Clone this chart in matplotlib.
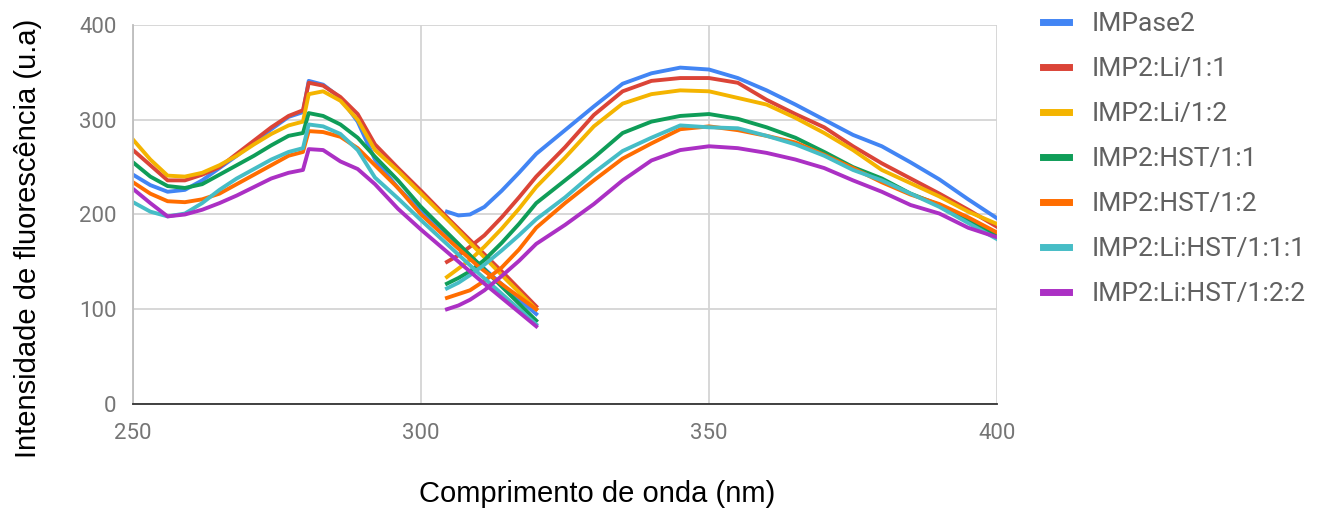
import matplotlib
matplotlib.use("Agg")
import matplotlib.pyplot as plt

# wavelength grids of the two scans (nm)
x_a = [250, 253, 256, 259, 262, 265, 268, 271, 274, 277, 279.5, 280.5, 283, 286, 289, 292, 296, 300, 305, 310, 315, 320]
x_b = [304.5, 306.5, 308.5, 311, 314, 317, 320, 325, 330, 335, 340, 345, 350, 355, 360, 365, 370, 375, 380, 385, 390, 395, 400]

labels = ["IMPase2", "IMP2:Li/1:1", "IMP2:Li/1:2", "IMP2:HST/1:1",
          "IMP2:HST/1:2", "IMP2:Li:HST/1:1:1", "IMP2:Li:HST/1:2:2"]
colors = ["#4285F4", "#DB4437", "#F4B400", "#0F9D58", "#FF6D00", "#46BDC6", "#AB30C4"]

# first scan (250-320 nm)
impase2_a = [242, 231, 224, 226, 236, 249, 262, 276, 290, 303, 308, 341, 337, 323, 298, 258, 228, 204, 176, 148, 121, 95]
li11_a = [268, 252, 236, 236, 242, 250, 264, 278, 292, 304, 310, 339, 336, 324, 306, 274, 249, 225, 194, 164, 134, 103]
li12_a = [279, 258, 241, 240, 244, 252, 262, 274, 285, 294, 298, 327, 330, 320, 300, 268, 246, 222, 192, 161, 130, 100]
hst11_a = [255, 240, 230, 228, 232, 242, 252, 262, 273, 283, 286, 307, 304, 295, 281, 261, 236, 208, 178, 148, 118, 88]
hst12_a = [234, 222, 214, 213, 216, 222, 232, 242, 252, 262, 266, 288, 287, 282, 270, 252, 228, 200, 172, 145, 122, 100]
lihst111_a = [213, 203, 198, 201, 212, 226, 238, 248, 258, 266, 270, 295, 293, 285, 268, 239, 217, 194, 166, 138, 111, 84]
lihst122_a = [227, 212, 198, 200, 205, 212, 220, 229, 238, 244, 247, 269, 268, 256, 248, 232, 206, 184, 158, 132, 107, 82]

# second scan (305-400 nm)
impase2_b = [203, 199, 200, 208, 225, 244, 264, 289, 314, 338, 349, 355, 353, 344, 331, 316, 300, 284, 272, 255, 237, 216, 196]
li11_b = [150, 157, 166, 178, 197, 218, 240, 271, 305, 330, 341, 344, 344, 339, 321, 306, 292, 272, 254, 238, 222, 205, 187]
li12_b = [134, 143, 152, 166, 185, 206, 229, 260, 293, 317, 327, 331, 330, 323, 316, 302, 286, 268, 247, 233, 219, 203, 190]
hst11_b = [127, 133, 140, 152, 170, 190, 212, 236, 260, 286, 298, 304, 306, 301, 292, 281, 266, 250, 238, 222, 210, 194, 178]
hst12_b = [112, 116, 120, 130, 144, 163, 186, 212, 236, 259, 275, 290, 293, 289, 283, 276, 263, 249, 234, 221, 211, 197, 181]
lihst111_b = [122, 128, 136, 147, 162, 178, 195, 218, 244, 267, 281, 294, 292, 291, 283, 274, 262, 247, 236, 222, 208, 191, 174]
lihst122_b = [100, 104, 110, 120, 135, 151, 169, 189, 211, 236, 257, 268, 272, 270, 265, 258, 249, 236, 224, 210, 201, 186, 176]

scan_a = [impase2_a, li11_a, li12_a, hst11_a, hst12_a, lihst111_a, lihst122_a]
scan_b = [impase2_b, li11_b, li12_b, hst11_b, hst12_b, lihst111_b, lihst122_b]

fig = plt.figure(figsize=(13.2, 5.14), dpi=100)
ax = fig.add_axes([0.1008, 0.214, 0.6545, 0.7374])

for ya, yb, c, lab in zip(scan_a, scan_b, colors, labels):
    ax.plot(x_a, ya, color=c, lw=2.8, label=lab, solid_joinstyle="round")
    ax.plot(x_b, yb, color=c, lw=2.8, solid_joinstyle="round")

ax.set_xlim(250, 400)
ax.set_ylim(0, 400)
ax.set_xticks([250, 300, 350, 400])
ax.set_yticks([0, 100, 200, 300, 400])
ax.grid(True, color="#d4d4d4", lw=1.3)
ax.set_axisbelow(True)
for s in ["top", "right"]:
    ax.spines[s].set_visible(False)
ax.spines["left"].set_color("#bdbdbd")
ax.spines["left"].set_linewidth(1.3)
ax.spines["bottom"].set_color("#333333")
ax.spines["bottom"].set_linewidth(1.3)
ax.tick_params(length=0, labelsize=16, labelcolor="#757575", pad=12)
ax.tick_params(axis="x", pad=14)
for t in ax.get_xticklabels() + ax.get_yticklabels():
    t.set_family("Roboto")

fig.text(597 / 1320, 1 - 494 / 514, "Comprimento de onda (nm)", ha="center", va="center",
         fontsize=21, family="Liberation Sans")
fig.text(28 / 1320, 1 - 238 / 514, "Intensidade de fluorescência (u.a)", ha="center", va="center",
         rotation=90, fontsize=21, family="Liberation Sans")

handles, labs = ax.get_legend_handles_labels()
leg = fig.legend(handles, labs, loc="upper left", bbox_to_anchor=(1019 / 1320, 1 + 12 / 514),
                 frameon=False, labelcolor="#616161", handlelength=1.0,
                 handletextpad=0.85, labelspacing=0.8, prop={"family": "Roboto", "size": 19})
for h in leg.get_lines():
    h.set_linewidth(5)

fig.savefig("out.png", dpi=100)
